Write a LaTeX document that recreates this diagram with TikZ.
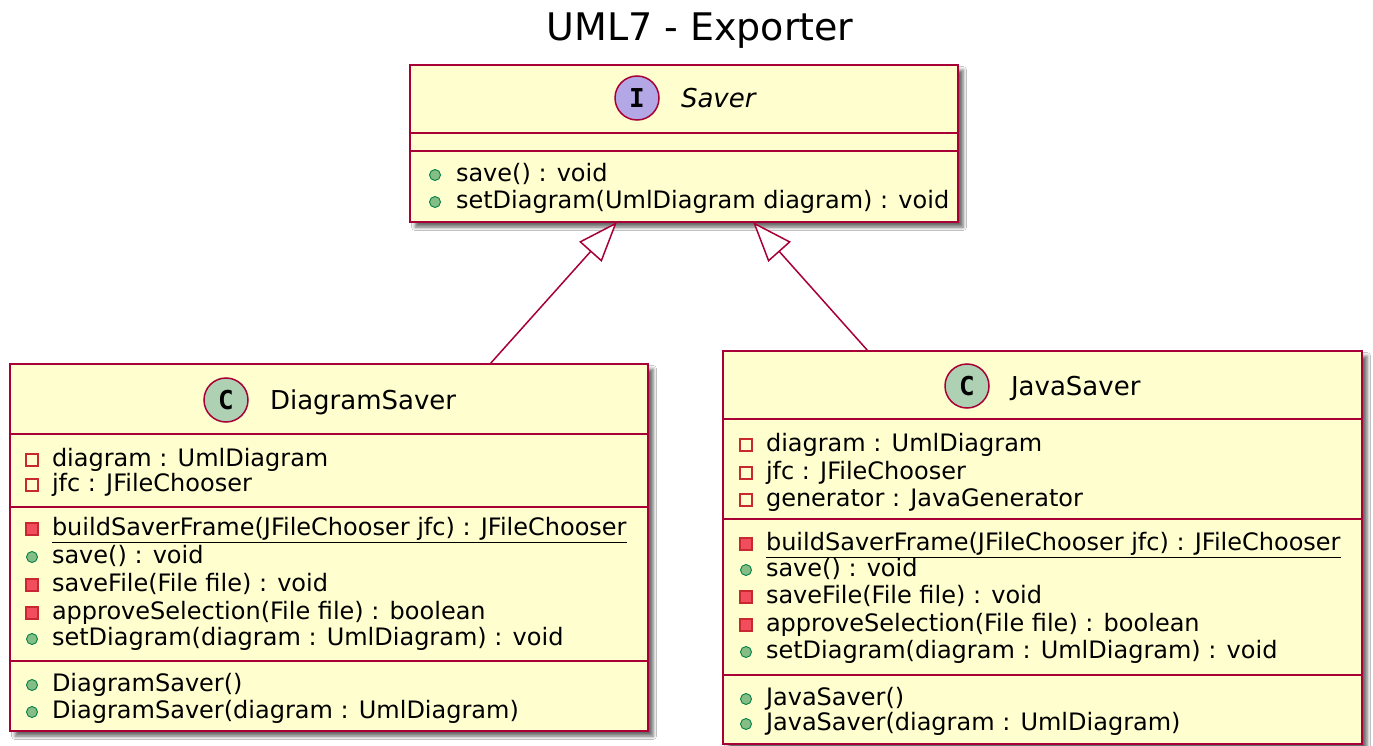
\documentclass[tikz,border=0pt]{standalone}
\usepackage{fontspec}
\setmainfont{DejaVu Sans}
\newfontfamily\spotfont{DejaVu Sans Mono}
\usetikzlibrary{arrows.meta, positioning, shadows.blur}

\definecolor{umlfill}{HTML}{FEFECE}
\definecolor{umlborder}{HTML}{A80036}
\definecolor{ifacespot}{HTML}{B4A7E5}
\definecolor{classspot}{HTML}{ADD1B2}
\definecolor{pubfill}{HTML}{84BE84}
\definecolor{pubborder}{HTML}{038048}
\definecolor{privfill}{HTML}{F24D5C}
\definecolor{privborder}{HTML}{C82930}

\begin{document}
\begin{tikzpicture}[
		x=1pt, y=-1pt,
		every node/.style={inner sep=0pt, outer sep=0pt},
		classbox/.style={rectangle, anchor=north west, draw=umlborder, fill=umlfill, line width=1.8pt,
			blur shadow={shadow xshift=5pt, shadow yshift=-5pt, shadow blur radius=3.5pt, shadow opacity=60}},
		compline/.style={draw=umlborder, line width=1.5pt},
		spot/.style={circle, draw=umlborder, line width=1.5pt, minimum size=44pt, font=\spotfont\bfseries\fontsize{26}{26}\selectfont},
		cname/.style={anchor=base west, font=\fontsize{26}{30}\selectfont},
		member/.style={anchor=base west, font=\fontsize{24}{27}\selectfont},
		pub/.style={circle, draw=pubborder, fill=pubfill, line width=0.9pt, minimum size=11pt},
		privf/.style={rectangle, draw=privborder, fill=umlfill, line width=1.2pt, minimum size=12pt},
		privm/.style={rectangle, draw=privborder, fill=privfill, line width=1.2pt, minimum size=12pt},
		extends/.style={draw=umlborder, line width=1.5pt, -{Triangle[length=40pt, width=30pt, fill=white]}}
		]
	
		\fill[white] (0,0) rectangle (1373,746);
		\useasboundingbox (0,0) rectangle (1373,746);
	
		\node[anchor=base, font=\fontsize{38}{44}\selectfont] (title) at (700,41) {UML7 - Exporter};
	
		% interface Saver
		\node[classbox, minimum width=548pt, minimum height=157pt] (saver) at (410,65) {};
		\draw[compline] (saver.west |- 0,133) -- (saver.east |- 0,133);
		\draw[compline] (saver.west |- 0,151) -- (saver.east |- 0,151);
		\node[spot, fill=ifacespot] (saverspot) at (637,98) {I};
		\node[cname, font=\itshape\fontsize{26}{30}\selectfont] (savername) at (681,107.5) {Saver};
		\foreach \n/\y/\kind/\txt in {1/173/pub/{save() : void}, 2/200/pub/{setDiagram(UmlDiagram diagram) : void}}
		{
			\node[\kind] (sv-mk\n) at (435,\y+2) {};
			\node[member] (sv-m\n) at (456,\y+8.5) {\txt};
		}
	
		% class DiagramSaver
		\node[classbox, minimum width=638pt, minimum height=367pt] (diagsaver) at (10,364) {};
		\draw[compline] (diagsaver.west |- 0,434) -- (diagsaver.east |- 0,434);
		\draw[compline] (diagsaver.west |- 0,507) -- (diagsaver.east |- 0,507);
		\draw[compline] (diagsaver.west |- 0,661) -- (diagsaver.east |- 0,661);
		\node[spot, fill=classspot] (diagspot) at (226,400) {C};
		\node[cname] (diagname) at (270,409.5) {DiagramSaver};
		\foreach \n/\y/\kind/\txt in {
			1/458/privf/{diagram : UmlDiagram},
			2/483/privf/{jfc : JFileChooser},
			3/527/privm/{\underline{buildSaverFrame(JFileChooser jfc) : JFileChooser}},
			4/555/pub/{save() : void},
			5/583/privm/{saveFile(File file) : void},
			6/611/privm/{approveSelection(File file) : boolean},
			7/637/pub/{setDiagram(diagram : UmlDiagram) : void},
			8/683/pub/{DiagramSaver()},
			9/710/pub/{DiagramSaver(diagram : UmlDiagram)}}
		{
			\node[\kind] (ds-mk\n) at (32,\y+2) {};
			\node[member] (ds-m\n) at (52,\y+8.5) {\txt};
		}
	
		% class JavaSaver
		\node[classbox, minimum width=639pt, minimum height=393pt] (javasaver) at (723,351) {};
		\draw[compline] (javasaver.west |- 0,419) -- (javasaver.east |- 0,419);
		\draw[compline] (javasaver.west |- 0,519) -- (javasaver.east |- 0,519);
		\draw[compline] (javasaver.west |- 0,675) -- (javasaver.east |- 0,675);
		\node[spot, fill=classspot] (javaspot) at (967,386) {C};
		\node[cname] (javaname) at (1011,395.5) {JavaSaver};
		\foreach \n/\y/\kind/\txt in {
			1/443/privf/{diagram : UmlDiagram},
			2/471/privf/{jfc : JFileChooser},
			3/498/privf/{generator : JavaGenerator},
			4/542/privm/{\underline{buildSaverFrame(JFileChooser jfc) : JFileChooser}},
			5/568/pub/{save() : void},
			6/595/privm/{saveFile(File file) : void},
			7/623/privm/{approveSelection(File file) : boolean},
			8/650/pub/{setDiagram(diagram : UmlDiagram) : void},
			9/697/pub/{JavaSaver()},
			10/722/pub/{JavaSaver(diagram : UmlDiagram)}}
		{
			\node[\kind] (js-mk\n) at (746,\y+2) {};
			\node[member] (js-m\n) at (766,\y+8.5) {\txt};
		}
	
		% realisations
		\draw[extends] (diagsaver.north -| 490,0) -- (saver.south -| 617,0);
		\draw[extends] (javasaver.north -| 868,0) -- (saver.south -| 753,0);
	
	\end{tikzpicture}
\end{document}
